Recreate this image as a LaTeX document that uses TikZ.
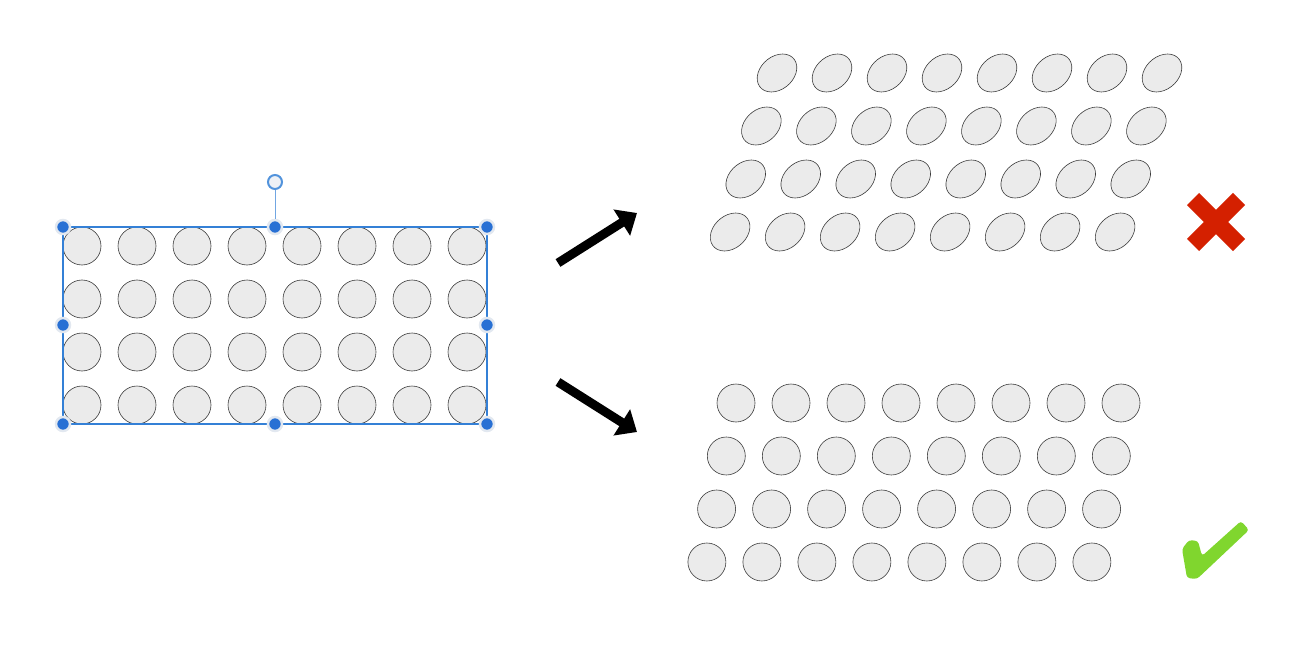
\documentclass[tikz,border=0pt]{standalone}
\usetikzlibrary{arrows.meta}

\definecolor{selblue}{RGB}{52,128,214}
\definecolor{handleblue}{RGB}{40,112,212}
\definecolor{halogray}{RGB}{226,232,240}
\definecolor{dotfill}{RGB}{235,235,235}
\definecolor{dotline}{RGB}{60,60,60}
\definecolor{crossred}{RGB}{212,32,0}
\definecolor{tickgreen}{RGB}{128,214,46}

\begin{document}
\begin{tikzpicture}[
    x=1pt, y=-1pt,
    dot/.style={circle, draw=dotline, line width=0.6pt, fill=dotfill,
                minimum size=38pt, inner sep=0pt},
    handle/.style={circle, fill=handleblue, draw=halogray, line width=2.5pt,
                   minimum size=14pt, inner sep=0pt},
    rothandle/.style={circle, fill=halogray!60, draw=selblue!85, line width=2pt,
                      minimum size=14pt, inner sep=0pt},
    bigarrow/.style={-{Triangle[length=18pt, width=30pt]}, line width=9pt}
]
  \useasboundingbox (0,0) rectangle (1299,650);

  % selected grid
  \foreach \i in {0,...,7} {
    \foreach \j in {0,...,3} {
      \node[dot] (src-\i-\j) at (82+55*\i, 246+53*\j) {};
    }
  }
  \draw[selblue, line width=1.3pt] (63,227) rectangle (487,424);
  \node[handle] (h-nw) at (63,227) {};
  \node[handle] (h-n) at (275,227) {};
  \node[handle] (h-ne) at (487,227) {};
  \node[handle] (h-w) at (63,325) {};
  \node[handle] (h-e) at (487,325) {};
  \node[handle] (h-sw) at (63,424) {};
  \node[handle] (h-s) at (275,424) {};
  \node[handle] (h-se) at (487,424) {};
  \node[rothandle] (h-rot) at (275,182) {};
  \draw[selblue!70, line width=0.8pt] (h-rot) -- (h-n);

  % arrows
  \coordinate (up-tail) at (558,263);
  \coordinate (up-tip) at (637,213);
  \coordinate (dn-tail) at (558,382);
  \coordinate (dn-tip) at (637,432);
  \draw[bigarrow] (up-tail) -- (up-tip);
  \draw[bigarrow] (dn-tail) -- (dn-tip);

  % wrong: skewed shapes
  \begin{scope}[shift={(777,73)}, xslant=0.295]
    \foreach \i in {0,...,7} {
      \foreach \j in {0,...,3} {
        \node[dot, transform shape] (bad-\i-\j) at (55*\i, 53*\j) {};
      }
    }
  \end{scope}
  \draw[crossred, line width=17pt] (1193,199) -- (1239,245);
  \draw[crossred, line width=17pt] (1239,199) -- (1193,245);

  % right: shifted rows, round shapes
  \foreach \i in {0,...,7} {
    \foreach \j in {0,...,3} {
      \node[dot] (good-\i-\j) at (736+55*\i-9.7*\j, 403+53*\j) {};
    }
  }
  \fill[tickgreen, rounded corners=3pt]
    (1182,549) -- (1189,540) -- (1198,541) -- (1202,556)
    -- (1241,521) -- (1249,530) -- (1197,579) -- (1187,578) -- cycle;
\end{tikzpicture}
\end{document}
